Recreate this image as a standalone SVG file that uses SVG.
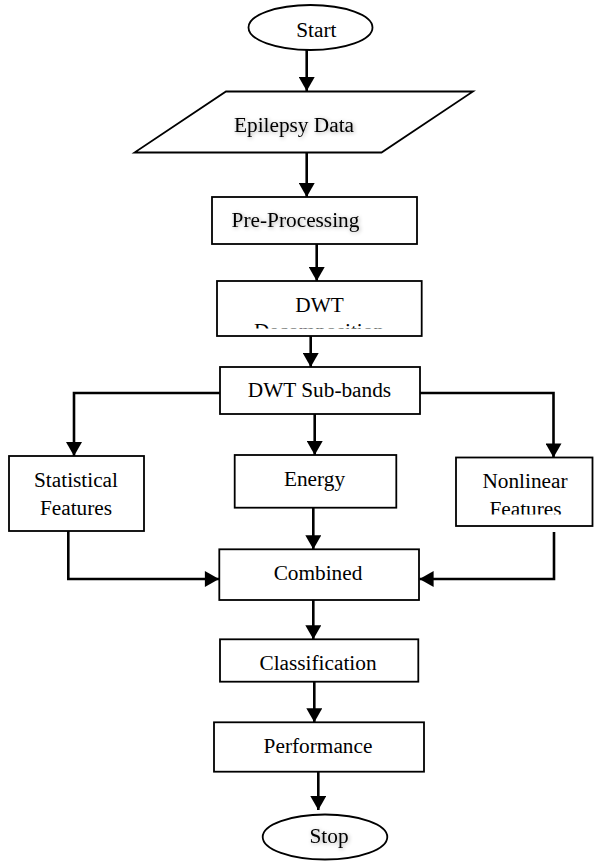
<svg xmlns="http://www.w3.org/2000/svg" width="594" height="861" viewBox="0 0 594 861">
<style>
.n{fill:#fff;stroke:#000;stroke-width:1.8}
text{font-family:'Liberation Serif','Times New Roman','DejaVu Serif',serif;font-size:21.3px;fill:#000;text-anchor:middle}
.c{fill:none;stroke:#000;stroke-width:2.6}
</style>
<defs>
<marker id="ah" markerUnits="userSpaceOnUse" markerWidth="18" markerHeight="16" refX="15" refY="8.5" orient="auto" viewBox="0 0 16 17">
<path d="M0,0 L15,8.5 L0,17 Z" fill="#000"/>
</marker>
<filter id="sh" x="-30%" y="-50%" width="160%" height="200%">
<feGaussianBlur in="SourceAlpha" stdDeviation="2"/>
<feOffset dx="1" dy="1" result="b"/>
<feComponentTransfer><feFuncA type="linear" slope="0.35"/></feComponentTransfer>
<feMerge><feMergeNode/><feMergeNode in="SourceGraphic"/></feMerge>
</filter>
<clipPath id="clipDwt"><rect x="217" y="281" width="205" height="47.5"/></clipPath>
<clipPath id="clipNl"><rect x="456" y="457" width="137" height="57.5"/></clipPath>
</defs>

<g id="connectors">
<line class="c" x1="306.7" y1="50" x2="306.7" y2="91" marker-end="url(#ah)"/>
<line class="c" x1="306.7" y1="152.5" x2="306.7" y2="197" marker-end="url(#ah)"/>
<line class="c" x1="316.7" y1="243" x2="316.7" y2="281" marker-end="url(#ah)"/>
<line class="c" x1="310.7" y1="336" x2="310.7" y2="367" marker-end="url(#ah)"/>
<polyline class="c" points="220,393 74,393 74,456" marker-end="url(#ah)"/>
<polyline class="c" points="420,393 553.5,393 553.5,457.5" marker-end="url(#ah)"/>
<line class="c" x1="314.7" y1="414" x2="314.7" y2="455" marker-end="url(#ah)"/>
<polyline class="c" points="68.3,526 68.3,579 219,579" marker-end="url(#ah)"/>
<polyline class="c" points="554,532 554,579 419.5,579" marker-end="url(#ah)"/>
<line class="c" x1="313.3" y1="507.7" x2="313.3" y2="549.3" marker-end="url(#ah)"/>
<line class="c" x1="313.3" y1="600" x2="313.3" y2="639.3" marker-end="url(#ah)"/>
<line class="c" x1="314.3" y1="681.7" x2="314.3" y2="722.3" marker-end="url(#ah)"/>
<line class="c" x1="318.3" y1="771.7" x2="318.3" y2="810" marker-end="url(#ah)"/>
</g>

<g id="start">
<ellipse class="n" cx="310.5" cy="27.5" rx="62" ry="22.5"/>
<text font-family="Liberation Serif, serif" x="316.3" y="37">Start</text>
</g>

<g id="epilepsy-data">
<polygon class="n" points="226,91.5 473,91.5 381.5,152.5 134.5,152.5"/>
<text font-family="Liberation Serif, serif" x="294" y="132" filter="url(#sh)">Epilepsy Data</text>
</g>

<g id="pre-processing">
<rect class="n" x="212" y="197" width="205" height="47"/>
<text font-family="Liberation Serif, serif" x="295.5" y="227" filter="url(#sh)">Pre-Processing</text>
</g>

<g id="dwt-decomposition">
<rect class="n" x="217" y="281" width="204.7" height="55"/>
<text font-family="Liberation Serif, serif" x="319.5" y="311.7">DWT</text>
<text font-family="Liberation Serif, serif" x="319" y="338" clip-path="url(#clipDwt)">Decomposition</text>
</g>

<g id="dwt-subbands">
<rect class="n" x="220" y="367" width="200" height="47"/>
<text font-family="Liberation Serif, serif" x="319.5" y="397">DWT Sub-bands</text>
</g>

<g id="statistical-features">
<rect class="n" x="9" y="456" width="135" height="75"/>
<text font-family="Liberation Serif, serif" x="76" y="487.3">Statistical</text>
<text font-family="Liberation Serif, serif" x="76" y="515">Features</text>
</g>

<g id="energy">
<rect class="n" x="234.7" y="455" width="161.6" height="52.7"/>
<text font-family="Liberation Serif, serif" x="314.5" y="486">Energy</text>
</g>

<g id="nonlinear-features">
<rect class="n" x="456" y="457.5" width="136.5" height="68.5"/>
<text font-family="Liberation Serif, serif" x="525" y="488.3">Nonlinear</text>
<text font-family="Liberation Serif, serif" x="525.5" y="516" clip-path="url(#clipNl)">Features</text>
</g>

<g id="combined">
<rect class="n" x="219.3" y="549.3" width="199.7" height="50.7"/>
<text font-family="Liberation Serif, serif" x="318" y="580">Combined</text>
</g>

<g id="classification">
<rect class="n" x="220" y="639.3" width="198.3" height="42.4"/>
<text font-family="Liberation Serif, serif" x="318" y="670">Classification</text>
</g>

<g id="performance">
<rect class="n" x="214" y="722.3" width="210" height="49.4"/>
<text font-family="Liberation Serif, serif" x="318" y="753.3">Performance</text>
</g>

<g id="stop">
<ellipse class="n" cx="325" cy="837" rx="62.3" ry="22.5"/>
<text font-family="Liberation Serif, serif" x="329" y="843.3" filter="url(#sh)">Stop</text>
</g>
</svg>
